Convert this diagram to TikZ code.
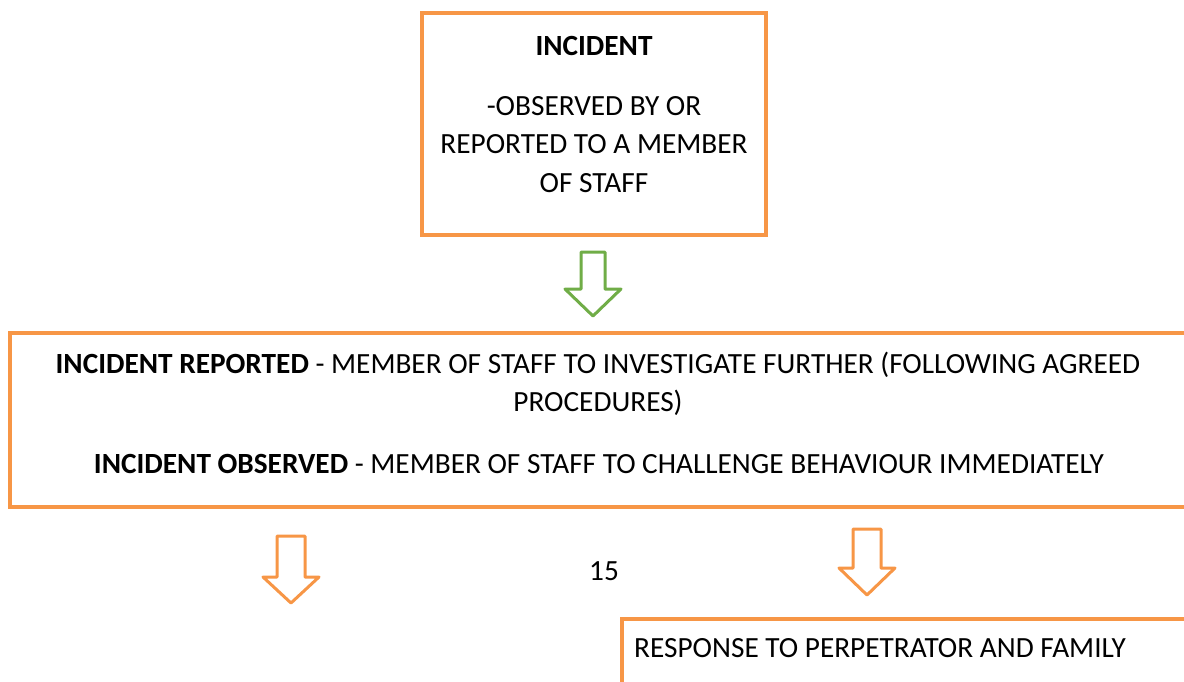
\documentclass[tikz,border=0pt]{standalone}
\usepackage{fontspec}
\setmainfont{Carlito}
\definecolor{orng}{HTML}{F79646}
\definecolor{grn}{HTML}{70AD47}
\begin{document}
\begin{tikzpicture}[x=1pt,y=-1pt,
  box/.style={draw=orng,line width=4pt,inner sep=0pt,outer sep=0pt,rectangle},
  txt/.style={inner sep=0pt,font=\fontsize{29.3}{38}\selectfont},
  blockarrow/.style={line width=3pt,line join=round,fill=white}]
\useasboundingbox (0,0) rectangle (1184,681);
\clip (0,0) rectangle (1184,681);
% boxes
\node[box,minimum width=344pt,minimum height=222pt] (top) at (594,124) {};
\node[box,minimum width=1176pt,minimum height=174pt] (mid) at (598,420) {};
\node[box,minimum width=628pt,minimum height=82pt] (bot) at (936,660) {};
% top box text
\node[txt,anchor=base] (t1) at (594,55) {\textbf{INCIDENT}};
\node[txt,anchor=base] (t2) at (594,115) {-OBSERVED BY OR};
\node[txt,anchor=base] (t3) at (594,153) {REPORTED TO A MEMBER};
\node[txt,anchor=base] (t4) at (594,192) {OF STAFF};
% middle box text
\node[txt,anchor=base] (m1) at (598,373) {\textbf{INCIDENT REPORTED} - MEMBER OF STAFF TO INVESTIGATE FURTHER (FOLLOWING AGREED};
\node[txt,anchor=base] (m2) at (598,411) {PROCEDURES)};
\node[txt,anchor=base] (m3) at (599,473) {\textbf{INCIDENT OBSERVED} - MEMBER OF STAFF TO CHALLENGE BEHAVIOUR IMMEDIATELY};
% page number
\node[txt,anchor=base] (pg) at (604,580) {15};
% bottom box text
\node[txt,anchor=base west] (b1) at (634,657) {RESPONSE TO PERPETRATOR AND FAMILY};
% block arrows
\draw[blockarrow,draw=grn] (581,252) -- (605,252) -- (605,289) -- (621,289) -- (593,316) -- (565,289) -- (581,289) -- cycle;
\draw[blockarrow,draw=orng] (277,536) -- (305,536) -- (305,577) -- (319,577) -- (291,603) -- (263,577) -- (277,577) -- cycle;
\draw[blockarrow,draw=orng] (853,529) -- (881,529) -- (881,568) -- (895,568) -- (867,595) -- (839,568) -- (853,568) -- cycle;
\end{tikzpicture}
\end{document}
